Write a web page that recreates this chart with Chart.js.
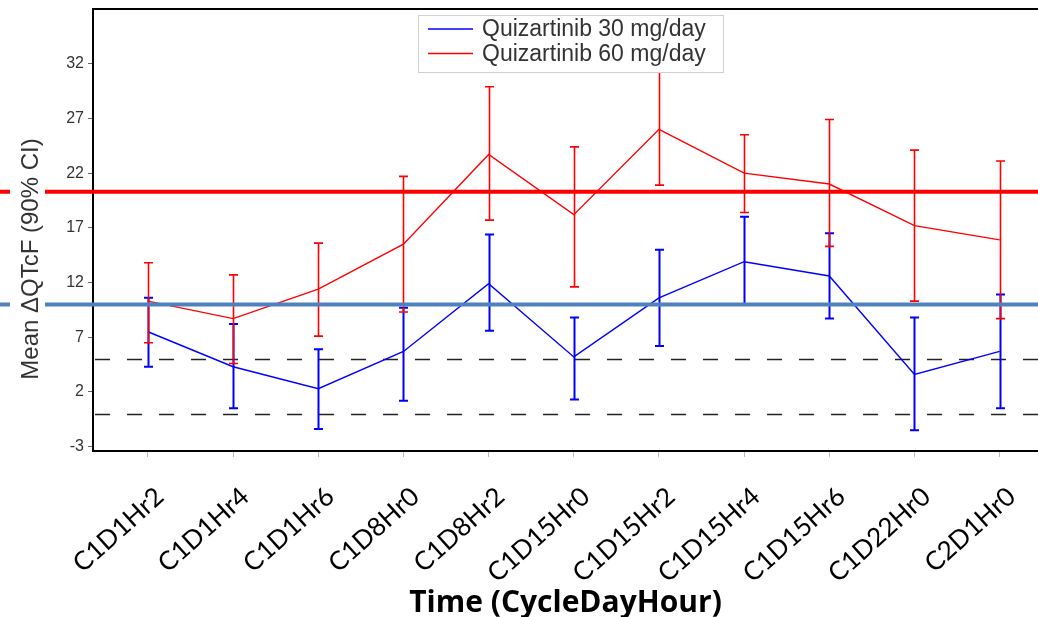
<!DOCTYPE html>
<html><head><meta charset="utf-8">
<script src="https://cdn.jsdelivr.net/npm/chart.js@4.4.0/dist/chart.umd.min.js"></script>
<style>html,body{margin:0;padding:0;background:#fff;overflow:hidden}#wrap{width:1038px;height:617px;position:relative}</style>
</head><body><div id="wrap"><canvas id="c" width="1038" height="617"></canvas></div>
<script>
const categories = ['C1D1Hr2','C1D1Hr4','C1D1Hr6','C1D8Hr0','C1D8Hr2','C1D15Hr0','C1D15Hr2','C1D15Hr4','C1D15Hr6','C1D22Hr0','C2D1Hr0'];
const seriesLabels = ['Quizartinib 30 mg/day','Quizartinib 60 mg/day'];
const mean30  = [7.5, 4.3, 2.3, 5.7, 11.9, 5.2, 10.6, 13.9, 12.6, 3.6, 5.7];
const lower30 = [4.3, 0.5, -1.4, 1.2, 7.6, 1.3, 6.2, 10.0, 8.7, -1.5, 0.5];
const upper30 = [10.6, 8.2, 5.9, 9.7, 16.4, 8.8, 15.0, 18.0, 16.5, 8.8, 10.9];
const mean60  = [10.3, 8.7, 11.4, 15.5, 23.7, 18.2, 26.0, 22.0, 21.0, 17.2, 15.9];
const lower60 = [6.5, 4.6, 7.1, 9.3, 17.7, 11.6, 20.9, 18.4, 15.3, 10.3, 8.7];
const upper60 = [13.8, 12.7, 15.6, 21.7, 29.9, 24.4, 32.5, 25.5, 26.9, 24.1, 23.1];
const yTicks = [-3, 2, 7, 12, 17, 22, 27, 32];
const dashedRefs = [5, 0];
const thresholdRefs = [20.3, 10];
const thresholdColors = ['#ff0000', '#4f81bd'];
const yTitle = 'Mean \u0394QTcF (90% CI)';
const xTitle = 'Time (CycleDayHour)';

const errBars = [
  {lo: lower30, hi: upper30, color: '#0000ff', width: 2},
  {lo: lower60, hi: upper60, color: '#ff0000', width: 1.6}
];

const toPts = arr => arr.map((v, i) => ({x: i, y: v}));

const overlay = {
  id: 'overlay',
  beforeDatasetsDraw(chart) {
    const {ctx, chartArea: a, scales: {y}} = chart;
    ctx.save();
    ctx.strokeStyle = '#222';
    ctx.lineWidth = 1.6;
    ctx.setLineDash([15, 17]);
    dashedRefs.forEach(v => {
      const py = Math.round(y.getPixelForValue(v)) + 0.5;
      ctx.beginPath(); ctx.moveTo(a.left + 2, py); ctx.lineTo(a.right, py); ctx.stroke();
    });
    ctx.restore();
  },
  afterDatasetDraw(chart, args) {
    const {ctx, scales: {x, y}} = chart;
    const eb = errBars[args.index];
    if (!eb) return;
    ctx.save();
    ctx.strokeStyle = eb.color;
    ctx.lineWidth = eb.width;
    eb.lo.forEach((lo, i) => {
      const px = Math.round(x.getPixelForValue(i)) + 0.5;
      const y1 = y.getPixelForValue(lo), y2 = y.getPixelForValue(eb.hi[i]);
      ctx.beginPath();
      ctx.moveTo(px, y1); ctx.lineTo(px, y2);
      ctx.moveTo(px - 4.5, y1); ctx.lineTo(px + 4.5, y1);
      ctx.moveTo(px - 4.5, y2); ctx.lineTo(px + 4.5, y2);
      ctx.stroke();
    });
    ctx.restore();
  },
  afterDraw(chart) {
    const {ctx, chartArea: a, scales: {y}} = chart;
    const W = chart.width;
    ctx.save();
    // top frame line
    ctx.strokeStyle = '#000'; ctx.lineWidth = 2;
    ctx.beginPath(); ctx.moveTo(a.left - 1, a.top); ctx.lineTo(W, a.top); ctx.stroke();
    // legend
    ctx.fillStyle = '#fff';
    ctx.fillRect(418, 15, 305, 57);
    ctx.strokeStyle = '#d0d0d0'; ctx.lineWidth = 1;
    ctx.strokeRect(418.5, 15.5, 305, 57);
    const ds = chart.data.datasets;
    ctx.font = '23px "Liberation Sans", Arial, sans-serif';
    ctx.textBaseline = 'middle'; ctx.textAlign = 'left';
    [0, 1].forEach(k => {
      const ly = 29 + k * 24.5;
      ctx.strokeStyle = ds[k].borderColor; ctx.lineWidth = 1.6;
      ctx.beginPath(); ctx.moveTo(428, ly); ctx.lineTo(473, ly); ctx.stroke();
      ctx.fillStyle = '#333';
      ctx.fillText(ds[k].label, 482, ly + 1);
    });
    // threshold lines
    thresholdRefs.forEach((v, k) => {
      const py = y.getPixelForValue(v);
      ctx.strokeStyle = thresholdColors[k]; ctx.lineWidth = 4;
      ctx.beginPath();
      ctx.moveTo(0, py); ctx.lineTo(10, py);
      ctx.moveTo(45, py); ctx.lineTo(W, py);
      ctx.stroke();
    });
    // y title
    ctx.translate(31, 259);
    ctx.rotate(-Math.PI / 2);
    ctx.fillStyle = '#333';
    ctx.font = '24px "Liberation Sans", Arial, sans-serif';
    ctx.textAlign = 'center'; ctx.textBaseline = 'middle';
    ctx.fillText(yTitle, 0, 0);
    ctx.restore();
  }
};

new Chart(document.getElementById('c'), {
  type: 'line',
  data: {
    datasets: [
      {label: seriesLabels[0], data: toPts(mean30), borderColor: '#0000ff', borderWidth: 1.4, pointRadius: 0, tension: 0, order: 1},
      {label: seriesLabels[1], data: toPts(mean60), borderColor: '#ff0000', borderWidth: 1.4, pointRadius: 0, tension: 0, order: 0}
    ]
  },
  options: {
    responsive: false,
    animation: false,
    devicePixelRatio: 1,
    layout: {padding: {top: 9, right: 0, left: 0, bottom: 0}},
    plugins: {legend: {display: false}, tooltip: {enabled: false}, title: {display: false}},
    scales: {
      x: {
        type: 'linear', min: -0.645, max: 10.45,
        afterBuildTicks: s => { s.ticks = categories.map((c, i) => ({value: i})); },
        afterFit: s => { s.height = 166; s.paddingLeft = 0; s.paddingRight = 0; },
        ticks: {
          autoSkip: false, maxRotation: 42, minRotation: 42,
          callback: v => categories[v],
          font: {family: 'Lato', size: 26}, color: '#000',
          padding: 24, labelOffset: 12
        },
        grid: {drawOnChartArea: false, drawTicks: true, tickLength: 6, color: '#bbb'},
        border: {color: '#000', width: 2},
        title: {display: true, text: xTitle, color: '#000',
          font: {family: '"Open Sans"', weight: 'bold', size: 30}, padding: {top: 0, bottom: -4}}
      },
      y: {
        type: 'linear', min: -3.4, max: 37,
        afterBuildTicks: s => { s.ticks = yTicks.map(v => ({value: v})); },
        afterFit: s => { s.width = 93; s.paddingTop = 0; s.paddingBottom = 0; },
        ticks: {font: {family: 'Liberation Sans', size: 16}, color: '#333', padding: 4},
        grid: {drawOnChartArea: false, drawTicks: true, tickLength: 5, color: '#666'},
        border: {color: '#000', width: 2}
      }
    }
  },
  plugins: [overlay]
});
</script></body></html>
